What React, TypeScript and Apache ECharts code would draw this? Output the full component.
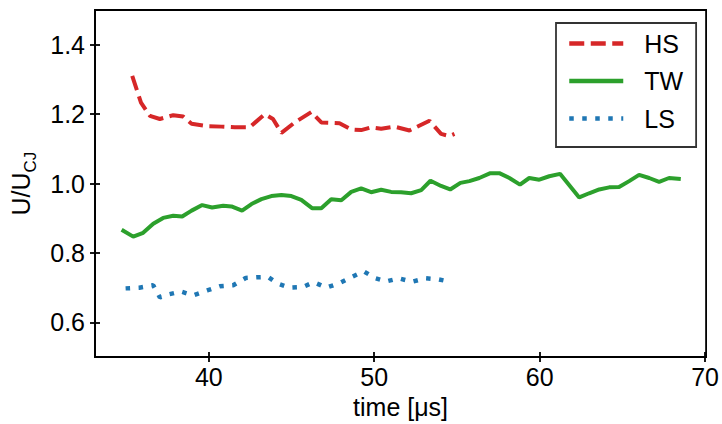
import React, { useEffect, useRef } from "react";
import * as echarts from "echarts";

const hsX = [35.37, 35.9, 36.44, 37.04, 37.85, 38.45, 38.96, 39.96, 40.77, 41.57, 42.47, 43.38, 43.88, 44.39, 45.19, 46.2, 46.8, 47.9, 48.61, 49.21, 49.81, 50.42, 51.22, 52.13, 53.34, 54.04, 54.54, 54.85];
const hsY = [1.31, 1.233, 1.195, 1.186, 1.197, 1.193, 1.172, 1.165, 1.164, 1.162, 1.162, 1.2, 1.186, 1.146, 1.176, 1.206, 1.176, 1.174, 1.156, 1.154, 1.162, 1.158, 1.164, 1.153, 1.181, 1.143, 1.137, 1.143];

const twX = [34.73, 35.43, 36.03, 36.64, 37.24, 37.85, 38.39, 38.96, 39.6, 40.2, 40.87, 41.37, 42.01, 42.58, 43.18, 43.78, 44.39, 44.99, 45.59, 46.24, 46.8, 47.4, 48.01, 48.61, 49.21, 49.81, 50.42, 51.02, 51.62, 52.23, 52.84, 53.4, 54.04, 54.59, 55.21, 55.75, 56.35, 57.02, 57.56, 58.17, 58.81, 59.37, 59.98, 60.58, 61.23, 62.39, 62.99, 63.6, 64.2, 64.8, 65.41, 66.01, 66.62, 67.22, 67.82, 68.53];
const twY = [0.867, 0.847, 0.858, 0.884, 0.901, 0.907, 0.905, 0.922, 0.938, 0.931, 0.936, 0.934, 0.922, 0.941, 0.955, 0.964, 0.967, 0.964, 0.953, 0.929, 0.929, 0.955, 0.952, 0.976, 0.986, 0.975, 0.982, 0.976, 0.975, 0.972, 0.981, 1.008, 0.993, 0.983, 1.002, 1.007, 1.016, 1.03, 1.03, 1.016, 0.997, 1.016, 1.011, 1.021, 1.028, 0.96, 0.972, 0.983, 0.989, 0.99, 1.007, 1.025, 1.016, 1.005, 1.016, 1.013];

const lsX = [34.97, 35.8, 36.64, 37.04, 37.59, 38.31, 39.05, 39.9, 40.66, 41.47, 42.23, 42.92, 43.58, 44.15, 44.85, 45.69, 46.34, 47.1, 47.9, 48.65, 49.37, 50.08, 50.72, 51.48, 52.29, 53.1, 53.88, 54.68];
const lsY = [0.698, 0.7, 0.707, 0.672, 0.681, 0.689, 0.678, 0.692, 0.704, 0.707, 0.728, 0.73, 0.731, 0.712, 0.7, 0.702, 0.716, 0.7, 0.713, 0.731, 0.747, 0.727, 0.718, 0.727, 0.717, 0.727, 0.724, 0.716];

const xTicks = [40, 50, 60, 70];
const yTicks = [0.6, 0.8, 1.0, 1.2, 1.4];

const FONT = "Liberation Sans, Arial, sans-serif";

const pairs = (xs: number[], ys: number[]) => xs.map((x, i) => [x, ys[i]]);

export default function App() {
  const ref = useRef<HTMLDivElement>(null);
  useEffect(() => {
    if (!ref.current) return;
    const chart = echarts.init(ref.current, null, { renderer: "svg" });
    const xMin = 33.12;
    const xMax = 70.06;
    const baseX = {
      type: "value" as const,
      min: xMin,
      max: xMax,
      position: "bottom" as const,
      splitLine: { show: false },
    };
    const baseY = {
      type: "value" as const,
      min: 0.5,
      max: 1.5,
      position: "left" as const,
      splitLine: { show: false },
    };
    chart.setOption({
      animation: false,
      backgroundColor: "#fff",
      grid: {
        left: 95,
        right: 15,
        top: 10,
        bottom: 61.5,
        show: true,
        borderColor: "#000",
        borderWidth: 1.8,
        backgroundColor: "transparent",
      },
      xAxis: [
        {
          ...baseX,
          name: "time [μs]",
          nameLocation: "middle",
          nameGap: 34,
          nameTextStyle: { fontFamily: FONT, fontSize: 25, color: "#000" },
          axisLine: { show: true, lineStyle: { color: "#000", width: 1.8 } },
          axisTick: { show: true, inside: false, length: 5, customValues: xTicks, lineStyle: { color: "#000", width: 1.8 } },
          axisLabel: { show: true, customValues: xTicks, margin: 7, fontFamily: FONT, fontSize: 25, color: "#000", formatter: (v: number) => String(Math.round(v)) },
        },
        {
          ...baseX,
          axisLine: { show: false },
          axisTick: { show: true, inside: true, length: 5, customValues: xTicks, lineStyle: { color: "#000", width: 1.8 } },
          axisLabel: { show: false },
        },
      ],
      yAxis: [
        {
          ...baseY,
          name: "{m|U/U}{sub|CJ}",
          nameLocation: "middle",
          nameRotate: 90,
          nameGap: 56,
          nameTextStyle: {
            fontFamily: FONT,
            fontSize: 25,
            color: "#000",
            rich: {
              m: { fontFamily: FONT, fontSize: 25, color: "#000", lineHeight: 30, verticalAlign: "top" },
              sub: { fontFamily: FONT, fontSize: 17, color: "#000", lineHeight: 17, verticalAlign: "top", padding: [14, 0, 0, 0] },
            },
          },
          axisLine: { show: true, lineStyle: { color: "#000", width: 1.8 } },
          axisTick: { show: true, inside: false, length: 5, customValues: yTicks, lineStyle: { color: "#000", width: 1.8 } },
          axisLabel: { show: true, customValues: yTicks, margin: 10, fontFamily: FONT, fontSize: 25, color: "#000", formatter: (v: number) => v.toFixed(1) },
        },
        {
          ...baseY,
          axisLine: { show: false },
          axisTick: { show: true, inside: true, length: 5, customValues: yTicks, lineStyle: { color: "#000", width: 1.8 } },
          axisLabel: { show: false },
        },
      ],
      legend: {
        orient: "vertical",
        left: 556,
        top: 23,
        padding: [8, 13, 16, 11],
        itemWidth: 54,
        itemHeight: 14,
        itemGap: 12.5,
        backgroundColor: "#fff",
        borderColor: "#333",
        borderWidth: 1.8,
        borderRadius: 0,
        itemStyle: { opacity: 0 },
        lineStyle: { width: 4.5 },
        textStyle: { fontFamily: FONT, fontSize: 25, lineHeight: 25, color: "#000", padding: [0, 0, 0, 16] },
        data: ["HS", "TW", "LS"],
      },
      series: [
        {
          name: "HS",
          type: "line",
          data: pairs(hsX, hsY),
          symbol: "none",
          lineStyle: { color: "#d62728", width: 4, type: [15, 6.5] },
          itemStyle: { color: "#d62728" },
        },
        {
          name: "TW",
          type: "line",
          data: pairs(twX, twY),
          symbol: "none",
          lineStyle: { color: "#2ca02c", width: 4, type: "solid" },
          itemStyle: { color: "#2ca02c" },
        },
        {
          name: "LS",
          type: "line",
          data: pairs(lsX, lsY),
          symbol: "none",
          lineStyle: { color: "#1f77b4", width: 4.5, type: [4.5, 8.5] },
          itemStyle: { color: "#1f77b4" },
        },
      ],
    });
    return () => chart.dispose();
  }, []);
  return <div ref={ref} style={{ position: "fixed", left: 0, top: 0, width: 722, height: 424 }} />;
}
